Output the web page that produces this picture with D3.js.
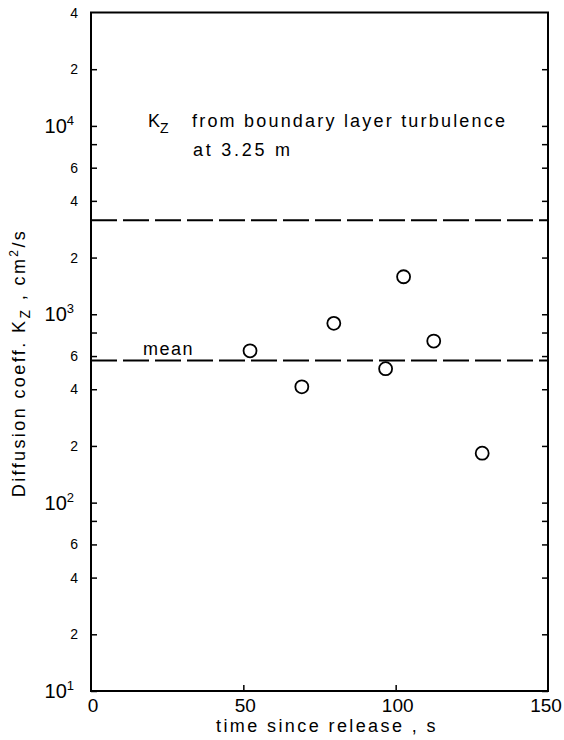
<!DOCTYPE html>
<html><head><meta charset="utf-8">
<script src="https://cdn.jsdelivr.net/npm/d3@7"></script>
<style>
body{margin:0;background:#fff}
text{font-family:"Liberation Sans",Arial,sans-serif;fill:#000}
</style>
</head><body>
<svg id="c" width="564" height="740"></svg>
<script>
// ---- data ----
const times = [52.2, 69.2, 79.7, 96.7, 102.6, 112.5, 128.4];
const kzValues = [640, 412, 895, 514, 1582, 721, 183];
const meanKz = 568;
const boundaryLayerKz = 3160;
const xTickValues = [0, 50, 100, 150];
const yDecadeTicks = [10, 100, 1000, 10000];
const yDecadeExponents = ["1", "2", "3", "4"];
const yMinorTicks = [20, 40, 60, 80, 200, 400, 600, 800, 2000, 4000, 6000, 8000, 20000];
const yMinorLabelValues = [20, 40, 60, 200, 400, 600, 2000, 4000, 6000, 20000, 40000];
const yMinorLabels = ["2", "4", "6", "2", "4", "6", "2", "4", "6", "2", "4"];

const svg = d3.select("#c");
const x = d3.scaleLinear().domain([0, 150]).range([91, 548]);
const y = d3.scaleLog().domain([10, 40000]).range([691, 12.5]);

const allY = yMinorTicks.concat(yDecadeTicks);

// frame
svg.append("rect")
  .attr("x", x(0)).attr("y", y(40000))
  .attr("width", x(150) - x(0)).attr("height", y(10) - y(40000))
  .attr("fill", "none").attr("stroke", "#000").attr("stroke-width", 2);

// left ticks (inward)
const left = svg.append("g").attr("transform", `translate(${x(0)},0)`)
  .call(d3.axisLeft(y).tickValues(allY).tickSize(-6).tickFormat(""));
left.select(".domain").remove();
left.selectAll("line").attr("stroke-width", 1.5);
// right ticks (inward)
const right = svg.append("g").attr("transform", `translate(${x(150)},0)`)
  .call(d3.axisRight(y).tickValues(allY).tickSize(-6).tickFormat(""));
right.select(".domain").remove();
right.selectAll("line").attr("stroke-width", 1.5);
// bottom ticks
const bottom = svg.append("g").attr("transform", `translate(0,${y(10)})`)
  .call(d3.axisBottom(x).tickValues([50, 100]).tickSize(-6).tickFormat(""));
bottom.select(".domain").remove();
bottom.selectAll("line").attr("stroke-width", 1.5);

// y decade labels
yDecadeTicks.forEach((v, i) => {
  const t = svg.append("text")
    .attr("x", 74).attr("y", y(v) + 7)
    .attr("text-anchor", "end")
    .style("font-size", "20px");
  t.append("tspan").text("10");
  t.append("tspan").attr("dy", -8).style("font-size", "13px").text(yDecadeExponents[i]);
});
// y minor labels
yMinorLabelValues.forEach((v, i) => {
  svg.append("text")
    .attr("x", 78).attr("y", y(v) + 5)
    .attr("text-anchor", "end")
    .style("font-size", "14px")
    .text(yMinorLabels[i]);
});
// x labels
xTickValues.forEach(v => {
  svg.append("text")
    .attr("x", x(v) + (v === 150 ? -2 : 2)).attr("y", 712)
    .attr("text-anchor", "middle")
    .style("font-size", "19px")
    .text(v);
});

// dashed lines
[boundaryLayerKz, meanKz].forEach(v => {
  svg.append("line")
    .attr("x1", x(0)).attr("x2", x(150))
    .attr("y1", y(v)).attr("y2", y(v))
    .attr("stroke", "#000").attr("stroke-width", 2)
    .attr("stroke-dasharray", "26,6");
});

// points
svg.append("g").selectAll("circle")
  .data(times.map((t, i) => [t, kzValues[i]]))
  .join("circle")
  .attr("cx", d => x(d[0])).attr("cy", d => y(d[1]))
  .attr("r", 6.5)
  .attr("fill", "none").attr("stroke", "#000").attr("stroke-width", 1.8);

// annotations
const a1 = svg.append("text").attr("x", 148).attr("y", 127).style("font-size", "18px");
a1.append("tspan").text("K");
a1.append("tspan").attr("dy", 6).style("font-size", "14px").text("Z");
svg.append("text").attr("x", 192).attr("y", 127).style("font-size", "18px")
  .attr("textLength", 313).attr("lengthAdjust", "spacing")
  .text("from boundary layer turbulence");
svg.append("text").attr("x", 193).attr("y", 156).style("font-size", "18px")
  .attr("textLength", 97).attr("lengthAdjust", "spacing")
  .text("at  3.25 m");
svg.append("text").attr("x", 143).attr("y", 355).style("font-size", "18px")
  .style("letter-spacing", "1.5px")
  .text("mean");

// axis titles
svg.append("text")
  .attr("x", 327).attr("y", 732)
  .attr("text-anchor", "middle")
  .style("font-size", "18px")
  .style("letter-spacing", "2.4px")
  .text("time since release , s");
const yl = svg.append("text")
  .attr("transform", "translate(25,363) rotate(-90)")
  .attr("text-anchor", "middle")
  .style("font-size", "18px")
  .style("letter-spacing", "2.4px");
yl.append("tspan").text("Diffusion coeff. K");
yl.append("tspan").attr("dy", 5).style("font-size", "14px").text("Z");
yl.append("tspan").attr("dy", -5).text(" , cm");
yl.append("tspan").attr("dy", -7).style("font-size", "12px").text("2");
yl.append("tspan").attr("dy", 7).text("/s");
</script>
</body></html>
